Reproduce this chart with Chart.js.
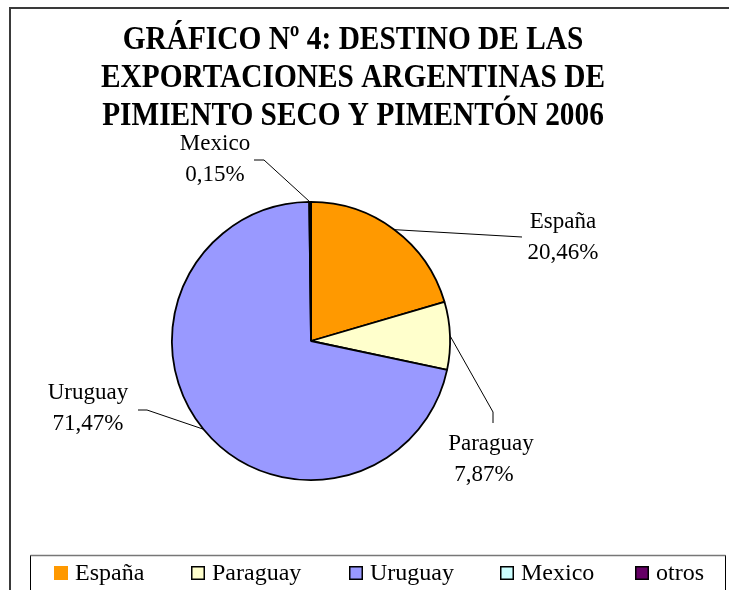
<!DOCTYPE html>
<html>
<head>
<meta charset="utf-8">
<script src="https://cdn.jsdelivr.net/npm/chart.js@4/dist/chart.umd.min.js"></script>
<style>
  html, body { margin: 0; padding: 0; background: #fff; overflow: hidden; }
  #wrap { position: relative; width: 729px; height: 590px; }
  canvas { display: block; }
</style>
</head>
<body>
<div id="wrap"><canvas id="c" width="729" height="590"></canvas></div>
<script>
// ---- data ----
const categories = ['España', 'Paraguay', 'Uruguay', 'Mexico', 'otros'];
const shares = [20.46, 7.87, 71.47, 0.15, 0.05];
const titleLines = ['GRÁFICO Nº 4: DESTINO DE LAS', 'EXPORTACIONES ARGENTINAS DE', 'PIMIENTO SECO Y PIMENTÓN 2006'];

// ---- styles ----
const sliceColors = ['#FF9900', '#FFFFCC', '#9999FF', '#CCFFFF', '#660066'];
const SERIF = '"Liberation Serif", "Times New Roman", serif';

// label placement (text centre of first line, leader-line knee points)
const labelLayout = [
  { tx: 563, ty: 222, path: [[522, 237]] },
  { tx: 491, ty: 444, path: [[493, 423], [493, 412]] },
  { tx: 88,  ty: 393, path: [[138, 410], [147, 410]] },
  { tx: 215, ty: 144, path: [[254, 160], [264, 160]] },
  null
];
const legendStarts = [54, 191, 349, 500, 635];

function fmt(v) { return v.toFixed(2).replace('.', ',') + '%'; }

const decor = {
  id: 'decor',
  afterDraw(chart) {
    const ctx = chart.ctx;
    ctx.save();
    // outer frame (left + top visible)
    ctx.strokeStyle = '#3a3a3a';
    ctx.lineWidth = 2;
    ctx.beginPath();
    ctx.moveTo(10, 590); ctx.lineTo(10, 8); ctx.lineTo(729, 8);
    ctx.stroke();

    // title
    ctx.fillStyle = '#000';
    ctx.font = 'bold 34px ' + SERIF;
    ctx.textAlign = 'center';
    ctx.textBaseline = 'alphabetic';
    const sx = 504 / ctx.measureText(titleLines[1]).width;
    const baselines = [49, 87, 125];
    titleLines.forEach((t, i) => {
      ctx.save();
      ctx.translate(353, baselines[i]);
      ctx.scale(sx, 1);
      ctx.fillText(t, 0, 0);
      ctx.restore();
    });

    // data labels with leader lines
    const meta = chart.getDatasetMeta(0);
    ctx.font = '23px ' + SERIF;
    ctx.textBaseline = 'middle';
    meta.data.forEach((arc, i) => {
      const L = labelLayout[i];
      if (!L) return;
      const p = arc.getProps(['x', 'y', 'startAngle', 'endAngle', 'outerRadius'], true);
      const mid = (p.startAngle + p.endAngle) / 2;
      const ex = p.x + Math.cos(mid) * p.outerRadius;
      const ey = p.y + Math.sin(mid) * p.outerRadius;
      ctx.strokeStyle = '#000';
      ctx.lineWidth = 1;
      ctx.beginPath();
      ctx.moveTo(L.path[0][0], L.path[0][1]);
      for (let k = 1; k < L.path.length; k++) ctx.lineTo(L.path[k][0], L.path[k][1]);
      ctx.lineTo(ex, ey);
      ctx.stroke();
      ctx.fillStyle = '#000';
      ctx.textAlign = 'center';
      ctx.fillText(categories[i], L.tx, L.ty);
      ctx.fillText(fmt(shares[i]), L.tx - (i === 1 ? 7 : 0), L.ty + 31);
    });

    // legend box
    ctx.strokeStyle = '#000';
    ctx.lineWidth = 1;
    ctx.beginPath();
    ctx.moveTo(30.5, 590); ctx.lineTo(30.5, 555.5); ctx.lineTo(725.5, 555.5); ctx.lineTo(725.5, 590);
    ctx.stroke();
    ctx.strokeStyle = '#777';
    ctx.lineWidth = 1.5;
    ctx.beginPath();
    ctx.moveTo(30.5, 555.5); ctx.lineTo(725.5, 555.5);
    ctx.stroke();

    // legend items
    ctx.font = '24px ' + SERIF;
    ctx.textAlign = 'left';
    ctx.textBaseline = 'middle';
    const ly = 573;
    categories.forEach((c, i) => {
      const x = legendStarts[i];
      ctx.fillStyle = sliceColors[i];
      ctx.fillRect(x, ly - 7, 14, 14);
      if (i > 0) {
        ctx.strokeStyle = '#000';
        ctx.lineWidth = 1.5;
        ctx.strokeRect(x + 0.75, ly - 6.25, 12.5, 12.5);
      }
      ctx.fillStyle = '#000';
      ctx.fillText(c, x + 21, ly + 1);
    });
    ctx.restore();
  }
};

new Chart(document.getElementById('c'), {
  type: 'pie',
  data: {
    labels: categories,
    datasets: [{
      data: shares,
      backgroundColor: sliceColors,
      borderColor: '#000',
      borderWidth: 1.8
    }]
  },
  options: {
    responsive: false,
    animation: false,
    devicePixelRatio: 1,
    layout: { padding: { left: 171, right: 278, top: 201, bottom: 109 } },
    plugins: {
      legend: { display: false },
      title: { display: false },
      tooltip: { enabled: false }
    }
  },
  plugins: [decor]
});
</script>
</body>
</html>
